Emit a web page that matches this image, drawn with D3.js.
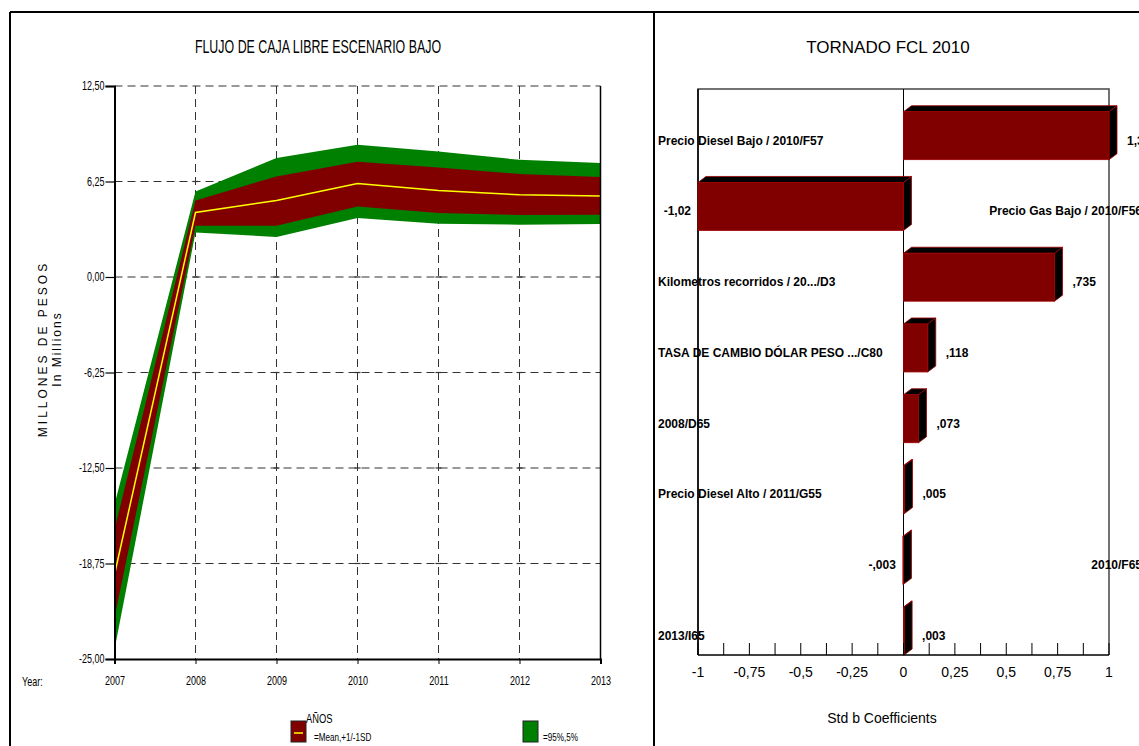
<!DOCTYPE html>
<html>
<head>
<meta charset="utf-8">
<script src="https://cdn.jsdelivr.net/npm/d3@7"></script>
<style>
  body { margin: 0; background: #fff; }
  svg { display: block; }
  text { font-family: 'Liberation Sans', Arial, sans-serif; }
</style>
</head>
<body>
<svg id="chart" width="1139" height="746"></svg>
<script>
// ---- Fan chart: free cash flow, low scenario (millions of pesos) ----
const years    = [2007, 2008, 2009, 2010, 2011, 2012, 2013];
const pct5     = [-24.38, 2.92, 2.62, 3.86, 3.49, 3.42, 3.47];
const sdLow    = [-22.30, 3.36, 3.36, 4.62, 4.19, 4.05, 4.07];
const meanVals = [-19.47, 4.22, 5.01, 6.12, 5.66, 5.38, 5.30];
const sdHigh   = [-16.53, 5.01, 6.58, 7.54, 7.17, 6.74, 6.54];
const pct95    = [-14.89, 5.60, 7.78, 8.65, 8.21, 7.67, 7.46];
const yTicks   = [12.5, 6.25, 0, -6.25, -12.5, -18.75, -25];
const fanLegend = ["=Mean,+1/-1SD", "=95%,5%"];

// ---- Tornado chart: standardized regression coefficients ----
const inputs = [
  "Precio Diesel Bajo / 2010/F57",
  "Precio Gas Bajo / 2010/F56",
  "Kilometros recorridos / 20.../D3",
  "TASA DE CAMBIO DÓLAR PESO .../C80",
  "2008/D65",
  "Precio Diesel Alto / 2011/G55",
  "2010/F65",
  "2013/I65"
];
const coefs = [1.31, -1.02, 0.735, 0.118, 0.073, 0.005, -0.003, 0.003];
const coefTicks = d3.range(-1, 1.0001, 0.125);
const coefTickLabels = [-1, -0.75, -0.5, -0.25, 0, 0.25, 0.5, 0.75, 1];

const RED = "#800000", GREEN = "#008000", YELLOW = "#ffff00";
const SQUEEZE = 0.75; // horizontal compression for the condensed lettering
const loc = d3.formatLocale({decimal: ",", thousands: ".", grouping: [3], currency: ["$", ""], minus: "-"});
const fmt2 = loc.format(".2f");
const fmtTick = loc.format("");
function fmtCoef(v) {
  const a = Math.abs(v);
  const s = a >= 1 ? loc.format(".2f")(a) : loc.format(".3f")(a).replace(/^0/, "");
  return (v < 0 ? "-" : "") + s;
}

const svg = d3.select("#chart");

// condensed text placed at (x, y)
function narrowText(parent, x, y, size, str, anchor, squeeze) {
  return parent.append("text")
    .attr("transform", `translate(${x},${y}) scale(${squeeze || SQUEEZE},1)`)
    .attr("font-size", size).attr("dominant-baseline", "central")
    .attr("text-anchor", anchor || "start").text(str);
}

// Outer frames
const frame = svg.append("g").attr("stroke", "#000").attr("stroke-width", 2);
frame.append("line").attr("x1", 10).attr("x2", 1139).attr("y1", 12).attr("y2", 12);
frame.append("line").attr("x1", 10).attr("x2", 10).attr("y1", 12).attr("y2", 746);
frame.append("line").attr("x1", 654).attr("x2", 654).attr("y1", 12).attr("y2", 746);

// ================= Left panel =================
const x = d3.scaleLinear().domain([2007, 2013]).range([114.5, 600.5]);
const y = d3.scaleLinear().domain([-25, 12.5]).range([659, 86]);

narrowText(svg, 318, 47, 18, "FLUJO DE CAJA LIBRE ESCENARIO BAJO", "middle", 0.69);

const grid = svg.append("g").attr("stroke", "#333").attr("stroke-width", 1).attr("stroke-dasharray", "8,5");
grid.selectAll("line.h").data(yTicks.filter(t => t > -25)).join("line")
  .attr("x1", x(2007)).attr("x2", x(2013)).attr("y1", d => y(d)).attr("y2", d => y(d));
grid.selectAll("line.v").data(years.slice(1, -1)).join("line")
  .attr("x1", d => x(d)).attr("x2", d => x(d)).attr("y1", y(12.5)).attr("y2", y(-25));

// small crosses where gridlines meet
const crosses = [];
years.slice(1, -1).forEach(yr => yTicks.slice(1, -1).forEach(t => crosses.push([yr, t])));
svg.append("g").attr("stroke", "#333").attr("stroke-width", 1.2)
  .selectAll("line").data(crosses).join("line")
  .attr("x1", d => x(d[0]) - 3).attr("x2", d => x(d[0]) + 3)
  .attr("y1", d => y(d[1])).attr("y2", d => y(d[1]));

const idx = d3.range(years.length);
const band = (lo, hi) => d3.area().x(i => x(years[i])).y0(i => y(lo[i])).y1(i => y(hi[i]))(idx);
svg.append("path").attr("d", band(pct5, pct95)).attr("fill", GREEN);
svg.append("path").attr("d", band(sdLow, sdHigh)).attr("fill", RED);
svg.append("path").attr("d", d3.line().x(i => x(years[i])).y(i => y(meanVals[i]))(idx))
  .attr("fill", "none").attr("stroke", YELLOW).attr("stroke-width", 1.5);

// axes
const yAxis = svg.append("g").attr("transform", `translate(${x(2007)},0)`)
  .call(d3.axisLeft(y).tickValues(yTicks).tickFormat(fmt2).tickSize(9).tickPadding(1));
yAxis.select(".domain").attr("stroke-width", 2);
yAxis.selectAll(".tick line").attr("stroke-width", 1.2);
yAxis.selectAll("text").attr("font-family", null).attr("font-size", 12).attr("fill", "#000")
  .attr("x", -10 / SQUEEZE).attr("transform", `scale(${SQUEEZE},1)`);
const xAxis = svg.append("g").attr("transform", `translate(0,${y(-25)})`)
  .call(d3.axisBottom(x).tickValues(years).tickFormat(d3.format("d")).tickSize(5).tickPadding(12));
xAxis.select(".domain").attr("stroke-width", 2);
xAxis.selectAll("text").attr("font-family", null).attr("font-size", 12).attr("fill", "#000")
  .attr("transform", `scale(${SQUEEZE},1)`);
svg.append("line").attr("x1", x(2013)).attr("x2", x(2013)).attr("y1", y(12.5)).attr("y2", y(-25))
  .attr("stroke", "#000").attr("stroke-width", 1.5);

narrowText(svg, 22, 681, 12, "Year:");

svg.append("text").attr("font-size", 12).attr("letter-spacing", 3)
  .attr("text-anchor", "middle").attr("dominant-baseline", "central")
  .attr("transform", "translate(43,349) rotate(-90)").text("MILLONES DE PESOS");
svg.append("text").attr("font-size", 12).attr("letter-spacing", 2)
  .attr("text-anchor", "middle").attr("dominant-baseline", "central")
  .attr("transform", "translate(57,349) rotate(-90)").text("In Millions");

// legend
const lg = svg.append("g");
lg.append("rect").attr("x", 291).attr("y", 721).attr("width", 15).attr("height", 21)
  .attr("fill", RED).attr("stroke", "#222").attr("stroke-width", 1);
lg.append("line").attr("x1", 294).attr("x2", 303).attr("y1", 733).attr("y2", 733)
  .attr("stroke", YELLOW).attr("stroke-width", 1.5);
narrowText(lg, 306, 718, 13, "AÑOS", "start", 0.72);
narrowText(lg, 314, 737, 11, fanLegend[0], "start", 0.74);
lg.append("rect").attr("x", 523).attr("y", 721).attr("width", 15).attr("height", 21)
  .attr("fill", GREEN).attr("stroke", "#222").attr("stroke-width", 1);
narrowText(lg, 543, 737, 11, fanLegend[1], "start", 0.74);

// ================= Right panel =================
const cx = d3.scaleLinear().domain([-1, 1]).range([698, 1109]).clamp(true);
const cy = d3.scaleBand().domain(d3.range(inputs.length)).range([111.7, 655])
  .paddingInner(0.322).paddingOuter(0);
const DX = 8, DY = 6;

svg.append("text").attr("x", 888).attr("y", 47)
  .attr("text-anchor", "middle").attr("dominant-baseline", "central")
  .attr("font-size", 17).text("TORNADO FCL 2010");

// plot frame
const pf = svg.append("g").attr("fill", "none");
pf.append("path").attr("d", `M${cx(-1)},655V89H${cx(1)}V655`).attr("stroke", "#444").attr("stroke-width", 1.5);
pf.append("line").attr("x1", cx(-1)).attr("x2", cx(-1)).attr("y1", 89).attr("y2", 655)
  .attr("stroke", "#000").attr("stroke-width", 1.5);
pf.append("line").attr("x1", cx(0)).attr("x2", cx(0)).attr("y1", 89).attr("y2", 655)
  .attr("stroke", "#000").attr("stroke-width", 1);

// bars with depth
const bars = svg.append("g").selectAll("g").data(coefs).join("g");
bars.each(function (v, i) {
  const g = d3.select(this);
  const xa = cx(Math.min(0, v)), xb = cx(Math.max(0, v));
  const y0 = cy(i), h = cy.bandwidth();
  g.append("polygon")
    .attr("points", [[xa, y0], [xa + DX, y0 - DY], [xb + DX, y0 - DY], [xb, y0]].join(" "))
    .attr("fill", "#000").attr("stroke", "#a00000").attr("stroke-width", 0.8);
  g.append("polygon")
    .attr("points", [[xb, y0], [xb + DX, y0 - DY], [xb + DX, y0 + h - DY], [xb, y0 + h]].join(" "))
    .attr("fill", "#000").attr("stroke", "#a00000").attr("stroke-width", 0.8);
  g.append("rect").attr("x", xa).attr("y", y0).attr("width", Math.max(0.6, xb - xa)).attr("height", h)
    .attr("fill", RED).attr("stroke", "#a00000").attr("stroke-width", 0.8);
  const ty = y0 + h / 2 + 5;
  g.append("text").attr("font-weight", "bold").attr("font-size", 12)
    .attr("dominant-baseline", "central").attr("y", ty)
    .attr("x", v >= 0 ? xb + DX + 10 : xa - 7)
    .attr("text-anchor", v >= 0 ? "start" : "end")
    .text(fmtCoef(v));
  g.append("text").attr("font-weight", "bold").attr("font-size", 12)
    .attr("dominant-baseline", "central").attr("y", ty)
    .attr("x", v >= 0 ? 658 : 1142)
    .attr("text-anchor", v >= 0 ? "start" : "end")
    .text(inputs[i]);
});

// coefficient axis
const ca = svg.append("g").attr("transform", "translate(0,655)");
ca.append("line").attr("x1", cx(-1)).attr("x2", cx(1)).attr("stroke", "#000").attr("stroke-width", 1.5);
ca.selectAll("line.t").data(coefTicks).join("line")
  .attr("x1", d => cx(d)).attr("x2", d => cx(d)).attr("y1", -12).attr("y2", 0)
  .attr("stroke", "#000").attr("stroke-width", 1);
ca.selectAll("text").data(coefTickLabels).join("text")
  .attr("x", d => cx(d)).attr("y", 17).attr("text-anchor", "middle").attr("dominant-baseline", "central")
  .attr("font-size", 14).text(d => fmtTick(d));

svg.append("text").attr("x", 882).attr("y", 718)
  .attr("text-anchor", "middle").attr("dominant-baseline", "central")
  .attr("font-size", 14).text("Std b Coefficients");
</script>
</body>
</html>
